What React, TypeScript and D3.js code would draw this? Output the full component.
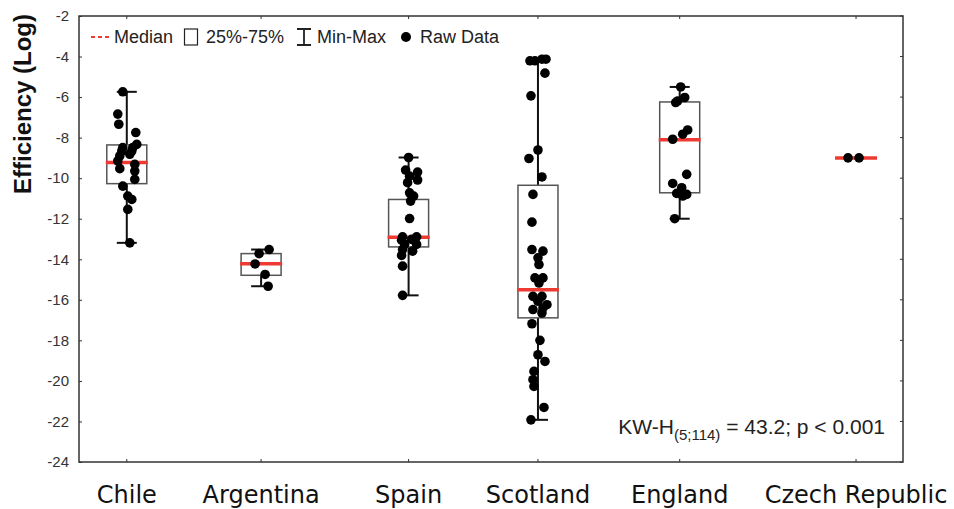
import React, { useEffect, useRef } from 'react';
import * as d3 from 'd3';

// groups on the x axis
const categories = ['Chile', 'Argentina', 'Spain', 'Scotland', 'England', 'Czech Republic'];

// box statistics
const minValues = [-13.19, -15.33, -15.78, -21.92, -12.0, -9.0];
const q1Values = [-10.27, -14.79, -13.39, -16.89, -10.72, -9.0];
const medianValues = [-9.23, -14.22, -12.91, -15.5, -8.11, -9.0];
const q3Values = [-8.36, -13.72, -11.05, -10.35, -6.24, -9.0];
const maxValues = [-5.74, -13.52, -8.98, -4.13, -5.5, -9.0];

// raw data points per group, with their horizontal jitter (fraction of half box)
const chileValues = [-5.74, -6.84, -7.34, -7.75, -8.33, -8.49, -8.49, -8.66, -8.66, -8.9, -8.82, -9.15, -9.32, -9.53, -9.65, -10.06, -10.39, -10.88, -11.05, -11.54, -13.19];
const chileJitter = [-0.2, -0.45, -0.4, 0.45, 0.5, 0.3, -0.2, -0.25, 0.25, -0.35, 0.15, -0.45, 0.4, -0.35, 0.4, 0.4, -0.2, 0.05, 0.25, 0.05, 0.15];

const argentinaValues = [-13.52, -13.72, -14.23, -14.75, -15.33];
const argentinaJitter = [0.4, -0.1, -0.3, 0.2, 0.35];

const spainValues = [-8.98, -9.6, -9.7, -9.9, -10.09, -10.22, -10.72, -10.88, -11.13, -11.99, -12.89, -12.89, -13.06, -13.02, -13.27, -13.27, -13.52, -13.6, -13.81, -14.34, -15.78];
const spainJitter = [0, -0.15, 0.45, 0.05, 0.45, -0.05, 0.05, 0.25, 0.1, 0.05, -0.3, 0.4, -0.35, 0.15, -0.2, 0.4, -0.3, 0.2, -0.35, -0.3, -0.3];

const scotlandValues = [-4.21, -4.21, -4.13, -4.13, -4.82, -5.94, -8.61, -9.03, -9.94, -10.8, -12.17, -13.52, -13.6, -13.93, -14.26, -14.92, -14.92, -15.17, -15.83, -15.83, -16.07, -16.24, -16.4, -16.48, -16.65, -17.18, -18.0, -18.71, -19.04, -19.53, -19.94, -20.27, -21.31, -21.92];
const scotlandJitter = [-0.4, -0.15, 0.2, 0.4, 0.35, -0.35, 0, -0.45, 0.2, -0.25, -0.3, -0.3, 0.25, 0, 0.05, -0.15, 0.25, 0.05, -0.25, 0.2, 0, 0.45, 0.25, -0.25, 0.2, -0.3, 0.1, 0, 0.35, -0.2, -0.25, -0.2, 0.3, -0.35];

const englandValues = [-5.5, -6.02, -6.19, -6.27, -7.62, -7.83, -8.08, -9.81, -10.26, -10.47, -10.75, -10.8, -10.88, -12.0];
const englandJitter = [0.05, 0.25, -0.1, -0.2, 0.4, 0.15, -0.35, 0.35, -0.35, 0.1, -0.15, 0.35, 0.15, -0.25];

const czechValues = [-9.0, -9.0];
const czechJitter = [-0.4, 0.15];

const yTicks = [-2, -4, -6, -8, -10, -12, -14, -16, -18, -20, -22, -24];

function BoxChart() {
  const ref = useRef<SVGSVGElement>(null);

  useEffect(() => {
    drawChart();
  }, []);

  function drawChart() {
    const svg = d3.select(ref.current);
    svg.selectAll('*').remove();

    const left = 79, right = 903, top = 16, bottom = 462;
    const boxW = 40;
    const ink = '#222';

    const groups = [
      { values: chileValues, jitter: chileJitter },
      { values: argentinaValues, jitter: argentinaJitter },
      { values: spainValues, jitter: spainJitter },
      { values: scotlandValues, jitter: scotlandJitter },
      { values: englandValues, jitter: englandJitter },
      { values: czechValues, jitter: czechJitter },
    ];

    // the groups are not evenly spaced in the original
    const slots = [0.058, 0.221, 0.4, 0.557, 0.729, 0.943];
    const xScale = d3
      .scaleOrdinal<string, number>()
      .domain(categories)
      .range(slots.map(f => left + f * (right - left)));
    const yScale = d3.scaleLinear().domain([-24, -2]).range([bottom, top]);

    // frame
    svg
      .append('rect')
      .attr('x', left)
      .attr('y', top)
      .attr('width', right - left)
      .attr('height', bottom - top)
      .attr('fill', 'none')
      .attr('stroke', '#333')
      .attr('stroke-width', 1.5);

    // y axis labels + inward ticks (plain hyphen, not unicode minus)
    const yAxis = svg
      .append('g')
      .attr('transform', `translate(${left},0)`)
      .call(d3.axisLeft(yScale).tickValues(yTicks).tickSize(-3).tickPadding(10).tickFormat(d => String(d)));
    yAxis.select('.domain').remove();
    yAxis.selectAll('line').attr('stroke', '#333');
    yAxis
      .selectAll('text')
      .attr('fill', '#333')
      .attr('font-family', 'Liberation Sans, Arial, sans-serif')
      .style('font-size', '15px');

    // right ticks
    svg
      .append('g')
      .selectAll('line')
      .data(yTicks)
      .join('line')
      .attr('x1', right)
      .attr('x2', right - 3)
      .attr('y1', d => yScale(d))
      .attr('y2', d => yScale(d))
      .attr('stroke', '#333');

    // top / bottom ticks at groups
    svg
      .append('g')
      .selectAll('line')
      .data(categories)
      .join('line')
      .attr('x1', d => xScale(d))
      .attr('x2', d => xScale(d))
      .attr('y1', top)
      .attr('y2', top + 3)
      .attr('stroke', '#333');
    svg
      .append('g')
      .selectAll('line')
      .data(categories)
      .join('line')
      .attr('x1', d => xScale(d))
      .attr('x2', d => xScale(d))
      .attr('y1', bottom)
      .attr('y2', bottom - 3)
      .attr('stroke', '#333');

    // x labels
    svg
      .append('g')
      .selectAll('text')
      .data(categories)
      .join('text')
      .attr('x', d => xScale(d))
      .attr('y', 503)
      .attr('text-anchor', 'middle')
      .attr('font-family', 'DejaVu Sans, Verdana, sans-serif')
      .style('font-size', '24px')
      .attr('fill', '#111')
      .text(d => d);

    // y title
    svg
      .append('text')
      .attr('transform', 'translate(31,104) rotate(-90)')
      .attr('text-anchor', 'middle')
      .attr('font-family', 'Liberation Sans, Arial, sans-serif')
      .attr('font-weight', 'bold')
      .style('font-size', '24px')
      .attr('fill', '#111')
      .text('Efficiency (Log)');

    // boxes
    const box = svg
      .append('g')
      .selectAll('g')
      .data(categories)
      .join('g');

    box
      .append('line')
      .attr('x1', d => xScale(d))
      .attr('x2', d => xScale(d))
      .attr('y1', (d, i) => yScale(minValues[i]))
      .attr('y2', (d, i) => yScale(maxValues[i]))
      .attr('stroke', '#111')
      .attr('stroke-width', 2);
    box
      .append('line')
      .attr('x1', d => xScale(d) - 10)
      .attr('x2', d => xScale(d) + 10)
      .attr('y1', (d, i) => yScale(minValues[i]))
      .attr('y2', (d, i) => yScale(minValues[i]))
      .attr('stroke', '#111')
      .attr('stroke-width', 2);
    box
      .append('line')
      .attr('x1', d => xScale(d) - 10)
      .attr('x2', d => xScale(d) + 10)
      .attr('y1', (d, i) => yScale(maxValues[i]))
      .attr('y2', (d, i) => yScale(maxValues[i]))
      .attr('stroke', '#111')
      .attr('stroke-width', 2);
    box
      .append('rect')
      .attr('x', d => xScale(d) - boxW / 2)
      .attr('y', (d, i) => yScale(q3Values[i]))
      .attr('width', boxW)
      .attr('height', (d, i) => yScale(q1Values[i]) - yScale(q3Values[i]))
      .attr('fill', 'white')
      .attr('stroke', '#555')
      .attr('stroke-width', 1.5);
    box
      .append('line')
      .attr('x1', d => xScale(d) - boxW / 2 - 1)
      .attr('x2', d => xScale(d) + boxW / 2 + 1)
      .attr('y1', (d, i) => yScale(medianValues[i]))
      .attr('y2', (d, i) => yScale(medianValues[i]))
      .attr('stroke', '#ee3a32')
      .attr('stroke-width', 3.5);

    // raw data
    groups.forEach((g, gi) => {
      const cx = xScale(categories[gi]);
      svg
        .append('g')
        .selectAll('circle')
        .data(g.values)
        .join('circle')
        .attr('cx', (d, i) => cx + g.jitter[i] * boxW / 2)
        .attr('cy', d => yScale(d))
        .attr('r', 4.8)
        .attr('fill', '#000');
    });

    // legend
    const legend = svg.append('g').attr('font-family', 'Liberation Sans, Arial, sans-serif').style('font-size', '18px').attr('fill', ink);
    const ly = 37;
    legend
      .append('line')
      .attr('x1', 91)
      .attr('x2', 109)
      .attr('y1', ly)
      .attr('y2', ly)
      .attr('stroke', '#ee3a32')
      .attr('stroke-width', 2)
      .attr('stroke-dasharray', '4,3');
    legend.append('text').attr('x', 114).attr('y', ly + 6).text('Median');
    legend
      .append('rect')
      .attr('x', 184.5)
      .attr('y', ly - 8)
      .attr('width', 13)
      .attr('height', 16)
      .attr('fill', 'none')
      .attr('stroke', ink)
      .attr('stroke-width', 1.2);
    legend.append('text').attr('x', 206).attr('y', ly + 6).text('25%-75%');
    legend
      .append('path')
      .attr('d', `M297,${ly - 8}H311M304,${ly - 8}V${ly + 8}M297,${ly + 8}H311`)
      .attr('fill', 'none')
      .attr('stroke', ink)
      .attr('stroke-width', 1.8);
    legend.append('text').attr('x', 317).attr('y', ly + 6).text('Min-Max');
    legend.append('circle').attr('cx', 406).attr('cy', ly).attr('r', 5).attr('fill', '#000');
    legend.append('text').attr('x', 420).attr('y', ly + 6).text('Raw Data');

    // test statistic
    const stat = svg
      .append('text')
      .attr('x', 885)
      .attr('y', 434)
      .attr('text-anchor', 'end')
      .attr('font-family', 'Liberation Sans, Arial, sans-serif')
      .style('font-size', '21px')
      .attr('fill', ink);
    stat.append('tspan').text('KW-H');
    stat.append('tspan').attr('dy', 6).style('font-size', '15px').text('(5;114)');
    stat.append('tspan').attr('dy', -6).text(' = 43.2; p < 0.001');
  }

  return <svg ref={ref} width={954} height={509} style={{ position: 'absolute', left: 0, top: 0, background: 'white' }} />;
}

export default function App() {
  return <BoxChart />;
}
